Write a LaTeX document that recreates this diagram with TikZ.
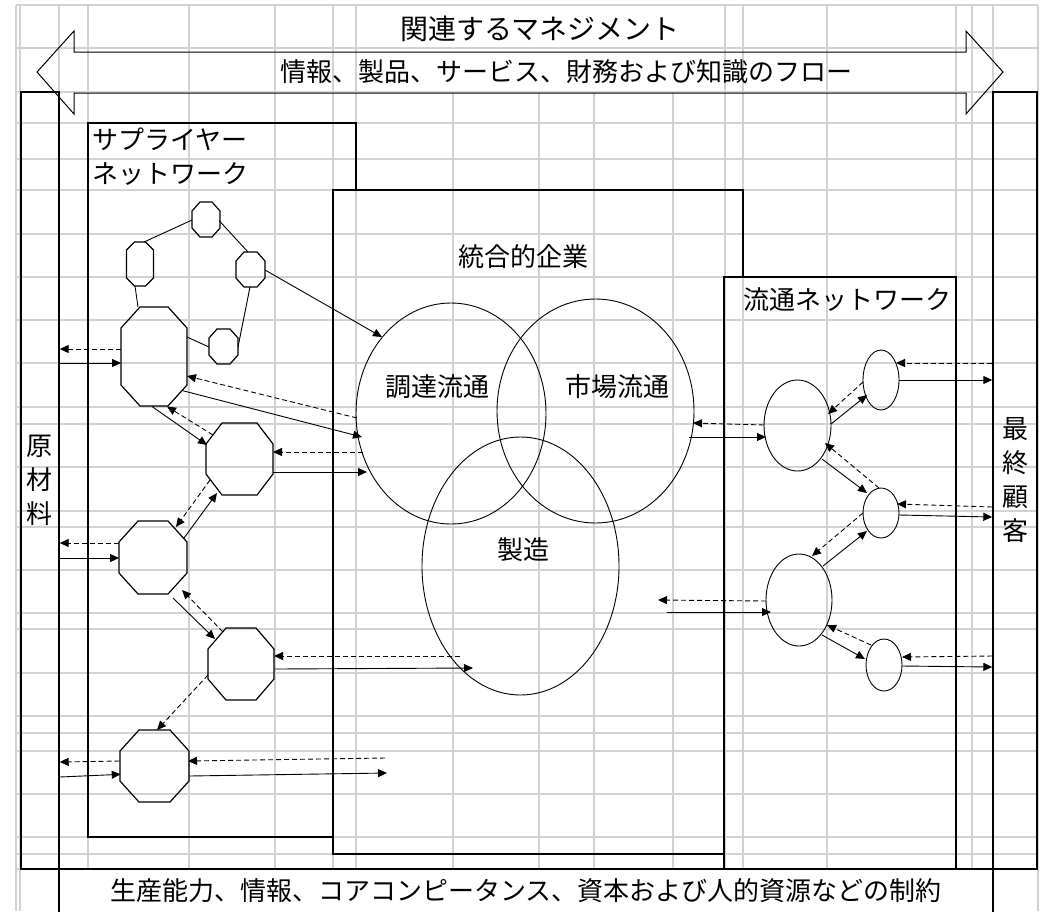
\documentclass[tikz,border=0pt]{standalone}
\usepackage{fontspec}
\setmainfont{Noto Sans CJK JP}
\usetikzlibrary{arrows.meta,calc,shapes.geometric}
\tikzset{
  gridln/.style={draw=gray!35, line width=1.2pt},
  boxln/.style={line width=1.4pt},
  lnk/.style={line width=0.9pt},
  sol/.style={line width=0.9pt, -{Triangle[length=9pt,width=8pt]}},
  dsh/.style={sol, dash pattern=on 5pt off 3pt},
  octd/.style={line width=1.2pt, line join=miter},
  octn/.style={rectangle, inner sep=0pt, outer sep=0pt},
  ell/.style={ellipse, draw, line width=0.9pt, inner sep=0pt, outer sep=0pt},
  txt/.style={font=\fontsize{26}{34}\selectfont, inner sep=0pt},
  bigtxt/.style={font=\fontsize{28}{34}\selectfont, inner sep=0pt}
}
\newcommand\octa[7]{%
  \node[octn, minimum width=#4pt, minimum height=#5pt] (#1) at (#2,#3) {};
  \draw[octd] ($(#1.north west)+(#6,0)$) -- ($(#1.north east)+(-#6,0)$) -- ($(#1.north east)+(0,#7)$) -- ($(#1.south east)+(0,-#7)$) -- ($(#1.south east)+(-#6,0)$) -- ($(#1.south west)+(#6,0)$) -- ($(#1.south west)+(0,-#7)$) -- ($(#1.north west)+(0,#7)$) -- cycle;}
\begin{document}
\begin{tikzpicture}[x=1pt,y=-1pt]
\useasboundingbox (0,0) rectangle (1043,911);
% grid
\foreach \gx in {88,189,275,333,356,725,743,827,956,972}
  \draw[gridln] (\gx,5) -- (\gx,869);
\foreach \gx in {453,539,594,673}
  \draw[gridln] (\gx,92) -- (\gx,869);
\foreach \gx in {16,20,59,993,1038}
  \draw[gridln] (\gx,5) -- (\gx,911);
\foreach \gy in {5,48,92,123,159,190,234,277,320,363,407,424,467,511,527,570,613,629,673,716,733,751,794,837,854,869}
  \draw[gridln] (16,\gy) -- (1038,\gy);

% titles
\node[bigtxt] (title) at (540,29) {関連するマネジメント};
\draw[line width=1pt] (37,72) -- (74,31) -- (74,52) -- (966,52) -- (966,31) -- (1003,72) -- (966,114) -- (966,93) -- (74,93) -- (74,114) -- cycle;
\node[txt] (flow) at (566,72) {情報、製品、サービス、財務および知識のフロー};

% outer frame
\node[draw, boxln, txt, minimum width=38pt, minimum height=777pt, align=center] (raw) at (40,480.5) {原\\材\\料};
\node[draw, boxln, txt, minimum width=44pt, minimum height=777pt, align=center] (cust) at (1015,480.5) {最\\終\\顧\\客};
\draw[boxln] (59,915) -- (59,869) -- (993,869) -- (993,915);
\node[txt] (cons) at (526,891) {生産能力、情報、コアコンピータンス、資本および人的資源などの制約};

% inner boxes
\draw[boxln] (333,837) -- (88,837) -- (88,123) -- (356,123) -- (356,190);
\draw[boxln] (724,854) -- (333,854) -- (333,190) -- (743,190) -- (743,277);
\draw[line width=1.1pt] (724,869) -- (724,277) -- (956,277) -- (956,869);
\node[txt, anchor=north west, align=left] (suplab) at (92,128) {サプライヤー\\ネットワーク};
\node[txt] (entlab) at (523,257) {統合的企業};
\node[txt] (dislab) at (847,300) {流通ネットワーク};

% enterprise circles
\node[ell, minimum width=190pt, minimum height=221pt] (c1) at (451,413.5) {};
\node[ell, minimum width=197pt, minimum height=224pt] (c2) at (595.5,411) {};
\node[ell, minimum width=197pt, minimum height=258pt] (c3) at (520.5,566) {};
\node[txt] (l1) at (437,387) {調達流通};
\node[txt] (l2) at (617,387) {市場流通};
\node[txt] (l3) at (523,550) {製造};

% supplier octagons
\octa{oa}{206}{219.5}{28}{35}{8}{9}
\octa{ob}{140}{264}{27}{44}{8}{8}
\octa{oc}{250.5}{269.5}{29}{35}{8}{9}
\octa{od}{223.5}{346.5}{29}{35}{8}{9}
\octa{o1}{154}{356.5}{66}{99}{19}{21}
\octa{o2}{239.5}{459}{67}{72}{16}{21}
\octa{o3}{153}{557.5}{68}{73}{19}{21}
\octa{o4}{241}{664}{66}{72}{18}{21}
\octa{o5}{154.5}{766}{69}{72}{19}{21}

% distribution ellipses
\node[ell, minimum width=36pt, minimum height=60pt] (eA) at (881,380) {};
\node[ell, minimum width=67pt, minimum height=91pt] (eB) at (797.5,425.5) {};
\node[ell, minimum width=36pt, minimum height=50pt] (eC) at (881,513) {};
\node[ell, minimum width=66pt, minimum height=92pt] (eD) at (799,600) {};
\node[ell, minimum width=36pt, minimum height=52pt] (eE) at (884,665) {};

% free ends
\coordinate (p15) at (460,656);
\coordinate (p16) at (473,668);
\coordinate (p20) at (385,758);
\coordinate (p21) at (387,773);
\coordinate (p34) at (658,600);
\coordinate (p35) at (667,612);

% supplier links
\draw[lnk] ($(oa)+(-14,0.5)$) -- ($(ob)+(4,-22)$);
\draw[lnk] ($(oa)+(13,1)$) -- ($(oc)+(-2.5,-17.5)$);
\draw[lnk] ($(ob)+(-5,22)$) -- ($(o1)+(-16,-49.5)$);
\draw[lnk] ($(oc)+(-0.5,17.5)$) -- ($(od)+(14.5,0.5)$);
\draw[lnk] ($(o1)+(33,-19.5)$) -- ($(od)+(-14.5,0.5)$);
\draw[sol] ($(oc)+(14.5,0.5)$) -- ($(c1)+(-69,-76.5)$);

\draw[dsh] ($(o1)+(-33,-7.5)$) -- (raw.east |- 0,349);
\draw[sol] (raw.east |- 0,363) -- ($(o1)+(-33,6.5)$);
\draw[dsh] ($(c1)+(-94,4.5)$) -- ($(o1)+(33,19.5)$);
\draw[sol] ($(o1)+(28,34)$) -- ($(c1)+(-89,23.5)$);
\draw[sol] ($(o1)+(-2,50)$) -- ($(o2)+(-32.5,-14)$);
\draw[dsh] ($(o2)+(-26.5,-24)$) -- ($(o1)+(13,50)$);
\draw[dsh] ($(c1)+(-88,38.5)$) -- ($(o2)+(33.5,-7)$);
\draw[sol] ($(o2)+(33.5,13)$) -- ($(c1)+(-84,58.5)$);
\draw[dsh] ($(o2)+(-29.5,21)$) -- ($(o3)+(23,-30.5)$);
\draw[sol] ($(o3)+(31,-19.5)$) -- ($(o2)+(-22.5,34)$);
\draw[dsh] ($(o3)+(-34,-14.5)$) -- (raw.east |- 0,543);
\draw[sol] (raw.east |- 0,558) -- ($(o3)+(-34,0.5)$);
\draw[sol] ($(o3)+(20,40.5)$) -- ($(o4)+(-26,-25)$);
\draw[dsh] ($(o4)+(-18,-32)$) -- ($(o3)+(29,32.5)$);
\draw[dsh] (p15) -- ($(o4)+(33,-8)$);
\draw[sol] ($(o4)+(34,5)$) -- (p16);
\draw[dsh] ($(o4)+(-33,11)$) -- ($(o5)+(2.5,-36)$);
\draw[dsh] ($(o5)+(-35,-5)$) -- (raw.east |- 0,762);
\draw[sol] (raw.east |- 0,777) -- ($(o5)+(-33.8,8.3)$);
\draw[dsh] (p20) -- ($(o5)+(33.5,-5)$);
\draw[sol] ($(o5)+(34.5,10)$) -- (p21);

% distribution links
\draw[dsh] (cust.west |- 0,363) -- ($(eA)+(15,-17)$);
\draw[sol] ($(eA)+(18,0)$) -- (cust.west |- 0,380);
\draw[dsh] ($(eA)+(-18,2)$) -- ($(eB)+(30.5,-11.5)$);
\draw[sol] ($(eB)+(33.5,-1.5)$) -- ($(eA)+(-14,15)$);
\draw[dsh] ($(eB)+(-33.5,-0.5)$) -- ($(c2)+(97.5,12)$);
\draw[sol] ($(c2)+(93.5,26)$) -- ($(eB)+(-31.5,11.5)$);
\draw[dsh] ($(eC)+(-2,-25)$) -- ($(eB)+(27.5,17.5)$);
\draw[sol] ($(eB)+(24.5,33.5)$) -- ($(eC)+(-14,-20)$);
\draw[dsh] (cust.west |- 0,507) -- ($(eC)+(16,-9)$);
\draw[sol] ($(eC)+(18,2)$) -- (cust.west |- 0,517);
\draw[dsh] ($(eC)+(-18,0)$) -- ($(eD)+(13,-44)$);
\draw[sol] ($(eD)+(24,-34)$) -- ($(eC)+(-14,18)$);
\draw[dsh] ($(eD)+(-33,1)$) -- (p34);
\draw[sol] (p35) -- ($(eD)+(-28,12)$);
\draw[dsh] ($(eE)+(-13,-20)$) -- ($(eD)+(28,25)$);
\draw[sol] ($(eD)+(23,35)$) -- ($(eE)+(-19,-6)$);
\draw[dsh] (cust.west |- 0,656) -- ($(eE)+(18,-8)$);
\draw[sol] ($(eE)+(18,1)$) -- (cust.west |- 0,667);
\end{tikzpicture}
\end{document}
